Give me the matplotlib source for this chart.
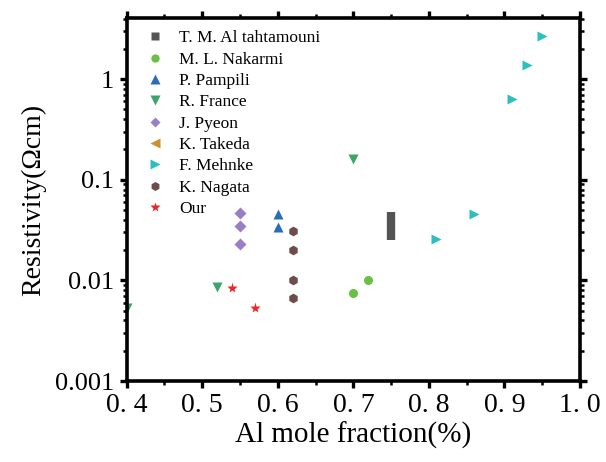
import matplotlib
matplotlib.use("Agg")
import matplotlib.pyplot as plt
from matplotlib.lines import Line2D
from matplotlib.ticker import FixedLocator, MultipleLocator, LogLocator, NullFormatter

# ---- data ----
tahtamouni_x = [0.75, 0.75]
tahtamouni_y = [0.025, 0.048]
nakarmi_x = [0.70, 0.72]
nakarmi_y = [0.0075, 0.0101]
pampili_x = [0.60, 0.60]
pampili_y = [0.046, 0.034]
france_x = [0.40, 0.52, 0.70]
france_y = [0.0053, 0.0086, 0.16]
pyeon_x = [0.55, 0.55, 0.55]
pyeon_y = [0.047, 0.035, 0.023]
takeda_x = []
takeda_y = []
mehnke_x = [0.81, 0.86, 0.91, 0.93, 0.95]
mehnke_y = [0.026, 0.046, 0.63, 1.38, 2.7]
nagata_x = [0.62, 0.62, 0.62, 0.62]
nagata_y = [0.031, 0.020, 0.010, 0.0067]
our_x = [0.54, 0.57]
our_y = [0.0084, 0.0053]

x_ticks = [0.4, 0.5, 0.6, 0.7, 0.8, 0.9, 1.0]
x_tick_labels = ["0. 4", "0. 5", "0. 6", "0. 7", "0. 8", "0. 9", "1. 0"]
y_ticks = [0.001, 0.01, 0.1, 1]
y_tick_labels = ["0.001", "0.01", "0.1", "1"]

plt.rcParams['font.family'] = ['Liberation Serif', 'DejaVu Serif']

fig = plt.figure(figsize=(6.06, 4.62), dpi=100)
ax = fig.add_axes([126.7/606, 1-381/462, (580-126.7)/606, (381-18)/462])

c_tah = '#545454'
c_nak = '#6cbf45'
c_pam = '#2b6cb8'
c_fra = '#3ea46c'
c_pye = '#9a7fc2'
c_tak = '#c9922f'
c_meh = '#2dbfc0'
c_nag = '#6c4c4c'
c_our = '#e8282a'

ax.plot(tahtamouni_x, tahtamouni_y, color=c_tah, lw=6, solid_capstyle='butt')
ax.plot(nakarmi_x, nakarmi_y, 'o', color=c_nak, ms=6.5, mec='none')
ax.plot(pampili_x, pampili_y, '^', color=c_pam, ms=7.8, mec='none')
ax.plot(france_x, france_y, 'v', color=c_fra, ms=7.8, mec='none')
ax.plot(pyeon_x, pyeon_y, 'D', color=c_pye, ms=6, mec='none')
ax.plot(takeda_x, takeda_y, '<', color=c_tak, ms=7.8, mec='none')
ax.plot(mehnke_x, mehnke_y, '>', color=c_meh, ms=7.8, mec='none')
ax.plot(nagata_x, nagata_y, 'h', color=c_nag, ms=7, mec='none')
ax.plot(our_x, our_y, '*', color=c_our, ms=8, mec='none')

handles = [
    Line2D([], [], ls='none', marker='s', color=c_tah, ms=5.5, mec='none'),
    Line2D([], [], ls='none', marker='o', color=c_nak, ms=6, mec='none'),
    Line2D([], [], ls='none', marker='^', color=c_pam, ms=7, mec='none'),
    Line2D([], [], ls='none', marker='v', color=c_fra, ms=7, mec='none'),
    Line2D([], [], ls='none', marker='D', color=c_pye, ms=5.5, mec='none'),
    Line2D([], [], ls='none', marker='<', color=c_tak, ms=7, mec='none'),
    Line2D([], [], ls='none', marker='>', color=c_meh, ms=7, mec='none'),
    Line2D([], [], ls='none', marker='h', color=c_nag, ms=6.5, mec='none'),
    Line2D([], [], ls='none', marker='*', color=c_our, ms=7.5, mec='none'),
]
labels = ["T. M. Al tahtamouni", "M. L. Nakarmi", "P. Pampili", "R. France",
          "J. Pyeon", "K. Takeda", "F. Mehnke", "K. Nagata", "Our"]
ax.legend(handles, labels, loc='upper left', bbox_to_anchor=(0.043, 0.9665),
          frameon=False, fontsize=12.5, handlelength=1.0, handletextpad=0.88,
          borderpad=0, borderaxespad=0, labelspacing=0.30)

ax.set_yscale('log')
ax.set_xlim(0.4, 1.0)
ax.set_ylim(0.001, 4.05)

ax.xaxis.set_major_locator(FixedLocator(x_ticks))
ax.set_xticklabels(x_tick_labels)
ax.xaxis.set_minor_locator(MultipleLocator(0.05))
ax.yaxis.set_major_locator(FixedLocator(y_ticks))
ax.set_yticklabels(y_tick_labels)
ax.yaxis.set_minor_locator(LogLocator(base=10, subs=range(2, 10)))
ax.yaxis.set_minor_formatter(NullFormatter())

for s in ax.spines.values():
    s.set_linewidth(2.6)

ax.tick_params(which='major', direction='out', length=5, width=2.4,
               top=True, right=True, labelsize=19, pad=4)
ax.tick_params(which='minor', direction='out', length=3, width=1.8,
               top=True, right=True)
ax.tick_params(axis='x', labelsize=20)

ax.set_xlabel("Al mole fraction(%)", fontsize=21, labelpad=2)
ax.set_ylabel("Resistivity(Ωcm)", fontsize=20, labelpad=6)

fig.savefig("out.png", dpi=100)
